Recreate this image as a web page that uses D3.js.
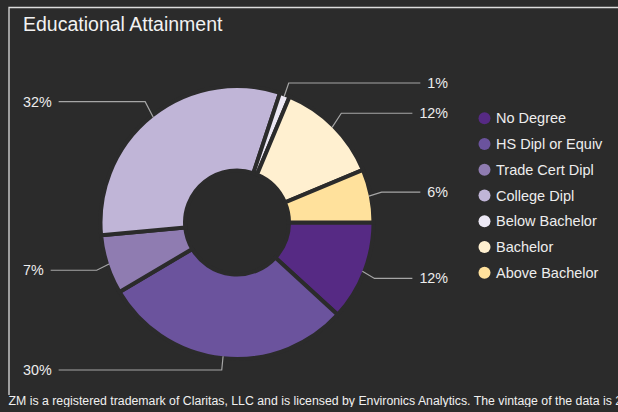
<!DOCTYPE html>
<html lang="en">
<head>
<meta charset="UTF-8">
<title>Educational Attainment</title>
<style>
  html, body { margin: 0; padding: 0; background: #2b2b2b; }
  svg { display: block; font-family: "Liberation Sans", Arial, sans-serif; }
</style>
</head>
<body>
<script src="https://cdn.jsdelivr.net/npm/d3@7"></script>
<script>
// data
const categories = ["No Degree", "HS Dipl or Equiv", "Trade Cert Dipl", "College Dipl", "Below Bachelor", "Bachelor", "Above Bachelor"]
const shares = [11.8, 29.7, 7.0, 31.6, 1.2, 12.4, 6.3]
const colors = ["#562a84", "#6b539d", "#8f7cb1", "#c0b5d7", "#ece8f4", "#fff0d0", "#ffe19c"]
const title = "Educational Attainment"
const footnote = "ZM is a registered trademark of Claritas, LLC and is licensed by Environics Analytics. The vintage of the data is 2023."

const width = 618, height = 412
const bg = "#2b2b2b"
const cx = 237, cy = 222.5
const r = 134.5, r0 = 54
const labelTop = 83, labelBottom = 370
const labelRightX = 448, labelLeftX = 23

const svg = d3.select("body").append("svg")
  .attr("width", width)
  .attr("height", height)

svg.append("rect").attr("width", width).attr("height", height).attr("fill", bg)

// frame (top + left edge only are visible)
svg.append("path")
  .attr("d", `M9,395V7.5H${width}`)
  .attr("fill", "none")
  .attr("stroke", "#dcdcdc")
  .attr("stroke-width", 1.3)

svg.append("text")
  .attr("x", 23).attr("y", 31)
  .attr("fill", "#f2f2f2")
  .attr("font-size", 19.5)
  .text(title)

const color = d3.scaleOrdinal().domain(categories).range(colors)

const pie = d3.pie()
  .sort(null)
  .value(d => d.v)
  .startAngle(Math.PI / 2)
  .endAngle(Math.PI / 2 + 2 * Math.PI)

const slices = pie(categories.map((c, i) => ({ c: c, v: shares[i] })))

const arc = d3.arc()
  .innerRadius(r0 - 2)
  .outerRadius(r + 2)

const g = svg.append("g").attr("transform", `translate(${cx},${cy})`)

g.selectAll("path.slice")
  .data(slices)
  .enter()
  .append("path")
  .attr("class", "slice")
  .attr("d", arc)
  .attr("fill", d => color(d.data.c))
  .attr("stroke", bg)
  .attr("stroke-width", 4)

// data labels, placed roughly like the original's label distribution
const labelDist = 20
slices.forEach(d => {
  d.mid = (d.startAngle + d.endAngle) / 2
  d.right = Math.sin(d.mid) > 0
  let y = cy - (r + labelDist) * Math.cos(d.mid)
  d.ly = Math.max(labelTop, Math.min(labelBottom, y))
})
;[true, false].forEach(side => {
  const s = slices.filter(d => d.right === side).sort((a, b) => a.ly - b.ly)
  for (let i = 1; i < s.length; i++) {
    if (s[i].ly - s[i - 1].ly < 20) s[i].ly = s[i - 1].ly + 20
  }
})

const lab = svg.append("g")
const fmt = v => Math.round(v) + "%"

slices.forEach(d => {
  const t = lab.append("text")
    .attr("x", d.right ? labelRightX : labelLeftX)
    .attr("y", d.ly)
    .attr("dy", "0.35em")
    .attr("text-anchor", d.right ? "end" : "start")
    .attr("fill", "#ededed")
    .attr("font-size", 14.3)
    .text(fmt(d.data.v))
  const tw = t.node().getComputedTextLength()
  const endX = d.right ? labelRightX - tw - 7 : labelLeftX + tw + 7
  const touchX = cx + Math.sin(d.mid) * r
  const touchY = cy - Math.cos(d.mid) * r
  const breakX = cx + Math.sin(d.mid) * (r + 13)
  lab.append("path")
    .attr("d", `M${endX},${d.ly}L${breakX},${d.ly}L${touchX},${touchY}`)
    .attr("fill", "none")
    .attr("stroke", "#a6a6a6")
    .attr("stroke-width", 1.2)
})

// legend
const legend = svg.append("g")
const ly = d3.scalePoint().domain(categories).range([118.3, 272.7])
categories.forEach(c => {
  legend.append("circle")
    .attr("cx", 484.5).attr("cy", ly(c)).attr("r", 6)
    .attr("fill", color(c))
  legend.append("text")
    .attr("x", 496).attr("y", ly(c))
    .attr("dy", "0.35em")
    .attr("fill", "#ededed")
    .attr("font-size", 14.5)
    .text(c)
})

// footnote, clipped at the bottom like the original
svg.append("clipPath").attr("id", "fclip")
  .append("rect").attr("x", 8).attr("y", 390).attr("width", width).attr("height", 17)
svg.append("text")
  .attr("clip-path", "url(#fclip)")
  .attr("x", 8.5).attr("y", 405)
  .attr("fill", "#f0f0f0")
  .attr("font-size", 12.3)
  .text(footnote)
</script>
</body>
</html>
